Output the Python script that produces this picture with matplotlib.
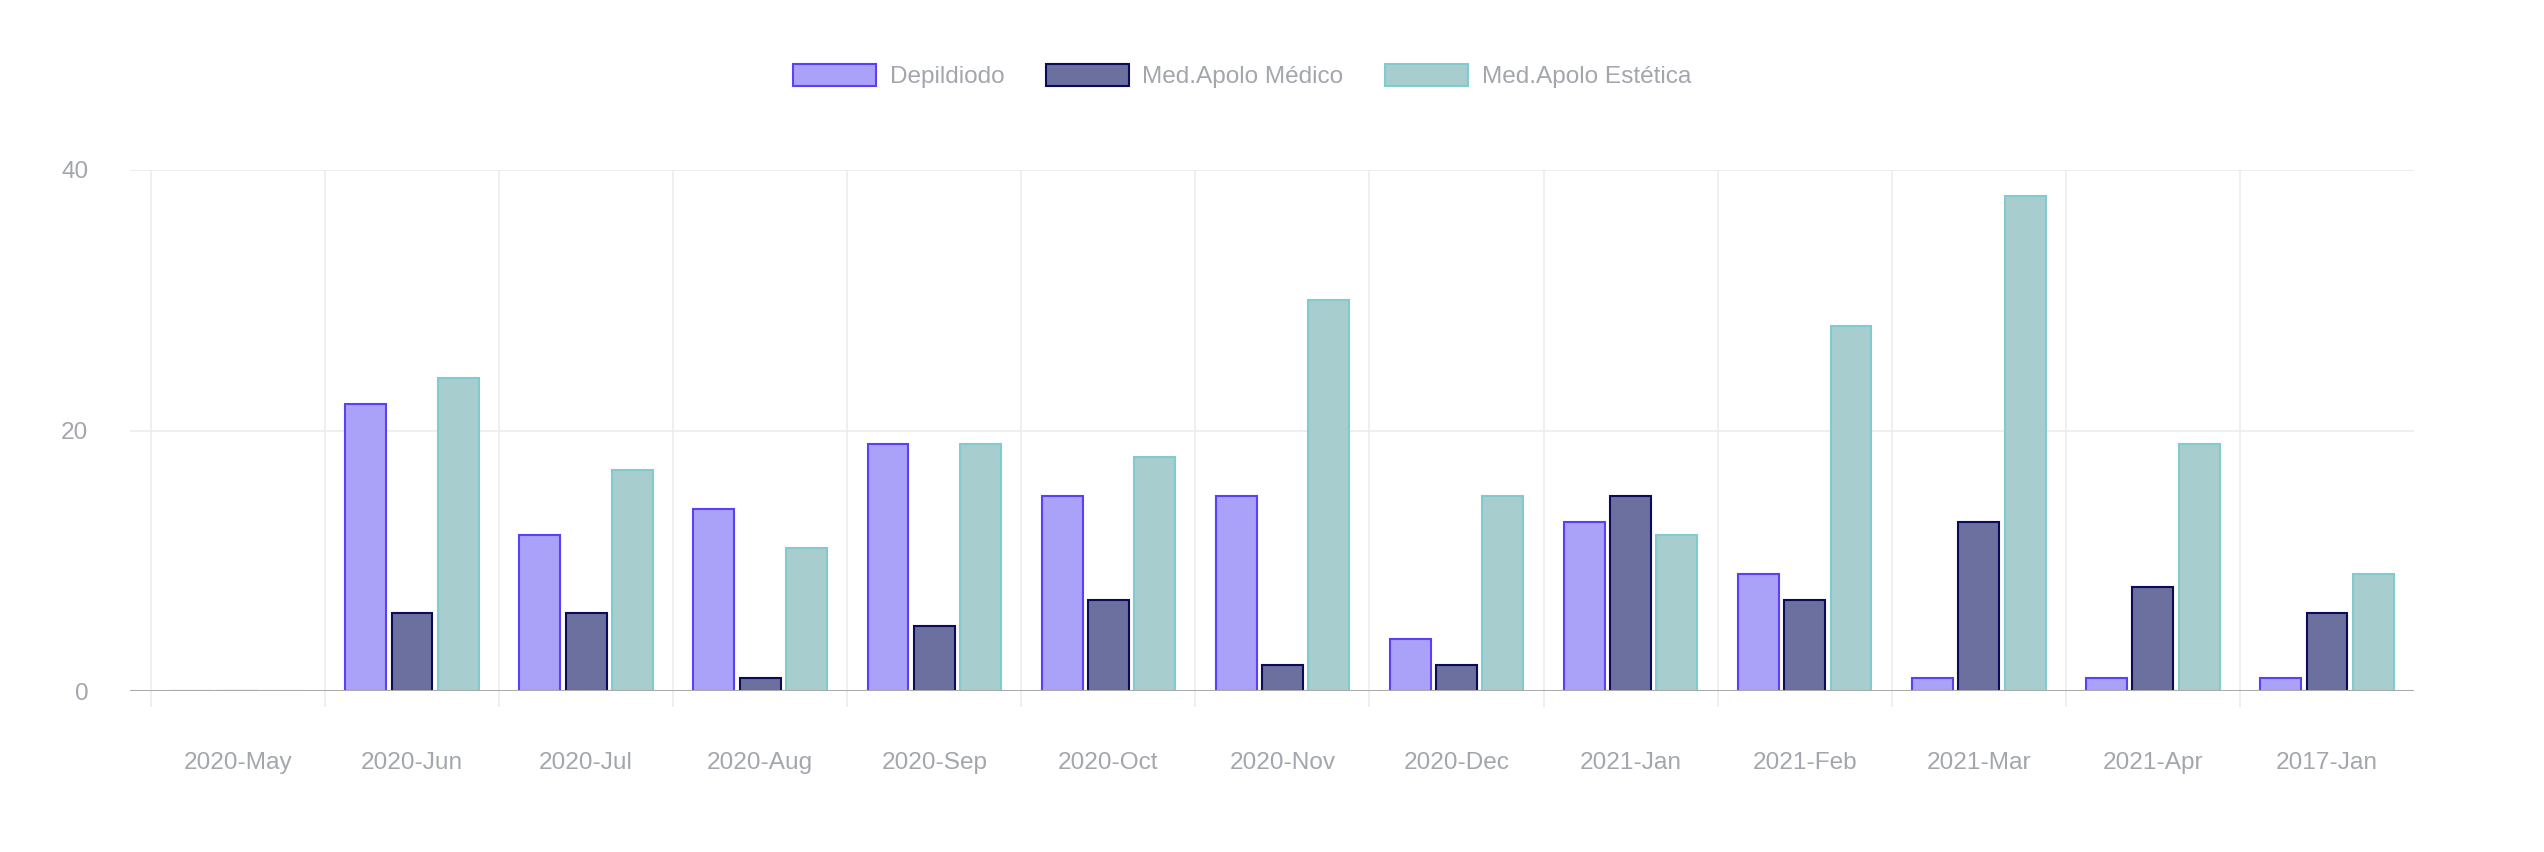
import numpy as np
import matplotlib
matplotlib.use('Agg')
import matplotlib.pyplot as plt

plt.rcParams['font.family'] = ['Liberation Sans', 'DejaVu Sans']

months = ['2020-May', '2020-Jun', '2020-Jul', '2020-Aug', '2020-Sep', '2020-Oct', '2020-Nov',
          '2020-Dec', '2021-Jan', '2021-Feb', '2021-Mar', '2021-Apr', '2017-Jan']
depildiodo = [0, 22, 12, 14, 19, 15, 15, 4, 13, 9, 1, 1, 1]
apolo_medico = [0, 6, 6, 1, 5, 7, 2, 2, 15, 7, 13, 8, 6]
apolo_estetica = [0, 24, 17, 11, 19, 18, 30, 15, 12, 28, 38, 19, 9]

series = [
    ('Depildiodo', depildiodo, '#aaa2f8', '#5a40f6'),
    ('Med.Apolo Médico', apolo_medico, '#6c709e', '#0b0b5c'),
    ('Med.Apolo Estética', apolo_estetica, '#a8cdcf', '#7fcbce'),
]

text_grey = '#a3a6ad'
grid_grey = '#ececec'

fig = plt.figure(figsize=(25.44, 8.52), dpi=100)
ax = fig.add_axes([130 / 2544, 1 - 691 / 852, 2284 / 2544, 521 / 852])

x = np.arange(len(months))
step = 0.266
width = 0.235
for k, (name, vals, fc, ec) in enumerate(series):
    ax.bar(x + (k - 1) * step, vals, width, color=fc, edgecolor=ec, linewidth=1.5,
           label=name, zorder=2)

ax.set_xlim(-0.62, len(months) - 0.5)
ax.set_ylim(0, 40)
ax.set_yticks([0, 20, 40])
ax.set_xticks(x)
ax.set_xticklabels(months)
ax.set_xticks(x - 0.5, minor=True)

for s in ax.spines.values():
    s.set_visible(False)
ax.axhline(0, color='#ababab', lw=2.2, zorder=3)

ax.grid(axis='y', which='major', color=grid_grey, lw=1.2, zorder=0)
ax.grid(axis='x', which='minor', color=grid_grey, lw=1.2, zorder=0)
ax.tick_params(axis='x', which='major', length=0, pad=44, labelsize=17.6, labelcolor=text_grey)
ax.tick_params(axis='x', which='minor', length=11.5, width=1.2, color=grid_grey)
ax.tick_params(axis='y', length=0, pad=30, labelsize=17.6, labelcolor=text_grey)

leg = fig.legend(loc='center', bbox_to_anchor=(1242 / 2544, 1 - 76 / 852), ncol=3,
                 frameon=False, fontsize=17.6, handlelength=3.4, handleheight=1.0,
                 handletextpad=0.55, columnspacing=1.7)
for t in leg.get_texts():
    t.set_color(text_grey)

fig.savefig('out.png', dpi=100)
